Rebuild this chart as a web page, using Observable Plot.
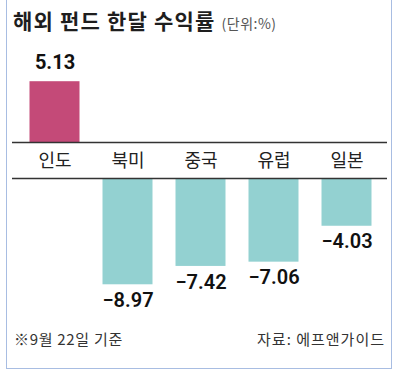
<!DOCTYPE html>
<html>
<head>
<meta charset="utf-8">
<script src="https://cdn.jsdelivr.net/npm/d3@7"></script>
<script src="https://cdn.jsdelivr.net/npm/@observablehq/plot@0.6"></script>
<style>
  html, body { margin: 0; padding: 0; background: #fff; }
  #wrap { position: relative; width: 400px; height: 383px; overflow: hidden; font-family: "Noto Sans CJK KR", sans-serif; }
  #box { position: absolute; left: 6px; top: -2px; width: 384px; height: 369px; border: 1px solid #a8bde2; }
  #title { position: absolute; left: 13px; top: 10px; font-size: 21px; line-height: 21px; font-weight: 700; color: #1e1e1e; white-space: nowrap; letter-spacing: 1.2px; }
  #title span { font-size: 14px; font-weight: 400; color: #555; margin-left: 6px; letter-spacing: 0.5px; }
  .note { position: absolute; top: 331px; font-size: 15px; line-height: 15px; color: #333; white-space: nowrap; }
  #top, #bottom { position: absolute; left: 0; }
  #top { top: 40px; }
  #bottom { top: 170px; }
</style>
</head>
<body>
<div id="wrap">
  <div id="box"></div>
  <div id="title">해외 펀드 한달 수익률<span>(단위:%)</span></div>
  <div id="top"></div>
  <div id="bottom"></div>
  <div class="note" style="left:14px; letter-spacing:0.7px">※9월 22일 기준</div>
  <div class="note" style="right:15px; letter-spacing:1px">자료: 에프앤가이드</div>
</div>
<script>
const categories = ["인도", "북미", "중국", "유럽", "일본"];
const values = [5.13, -8.97, -7.42, -7.06, -4.03];

const data = categories.map((c, i) => ({cat: c, value: values[i]}));
const pos = data.filter(d => d.value > 0);
const neg = data.filter(d => d.value < 0);
const fmt = d3.format(".2f");

const k = 11.85; // px per unit
const xRange = [17.5, 382.5];
const numFont = "Roboto, 'Liberation Sans', sans-serif";

const topPlot = Plot.plot({
  width: 400, height: 138,
  marginLeft: 12, marginRight: 13, marginTop: 0, marginBottom: 36,
  x: {domain: categories, range: xRange, padding: 0, label: null},
  y: {domain: [0, d3.max(values)], range: [102, 102 - d3.max(values) * k], axis: null},
  style: {fontFamily: "'Noto Sans CJK KR', sans-serif", background: "transparent"},
  marks: [
    Plot.barY(pos, {x: "cat", y: "value", fill: "#c44a78", insetLeft: 11.5, insetRight: 11.5}),
    Plot.text(pos, {x: "cat", y: "value", text: d => fmt(d.value), lineAnchor: "middle", dy: -19,
      fontSize: 20, fontWeight: 700, fontFamily: numFont, fill: "#111"}),
    Plot.ruleY([0], {stroke: "#333", strokeWidth: 1.5}),
    Plot.axisX({tickSize: 0, tickPadding: 12, fontSize: 18, color: "#222", label: null,
      fontFamily: "'Noto Sans CJK KR', sans-serif"})
  ]
});
document.getElementById("top").appendChild(topPlot);

const minV = d3.min(values);
const bottomPlot = Plot.plot({
  width: 400, height: 145,
  marginLeft: 12, marginRight: 13, marginTop: 8, marginBottom: 0,
  x: {domain: categories, range: xRange, padding: 0, axis: null},
  y: {domain: [minV, 0], range: [8 - minV * k, 8], axis: null},
  style: {background: "transparent"},
  marks: [
    Plot.barY(neg, {x: "cat", y: "value", fill: "#93d1d1", insetLeft: 11.5, insetRight: 11.5}),
    Plot.text(neg, {x: "cat", y: "value", text: d => fmt(d.value), lineAnchor: "top", dy: 8,
      fontSize: 20, fontWeight: 600, fontFamily: numFont, fill: "#111"}),
    Plot.ruleY([0], {stroke: "#333", strokeWidth: 1.5})
  ]
});
document.getElementById("bottom").appendChild(bottomPlot);
</script>
</body>
</html>
